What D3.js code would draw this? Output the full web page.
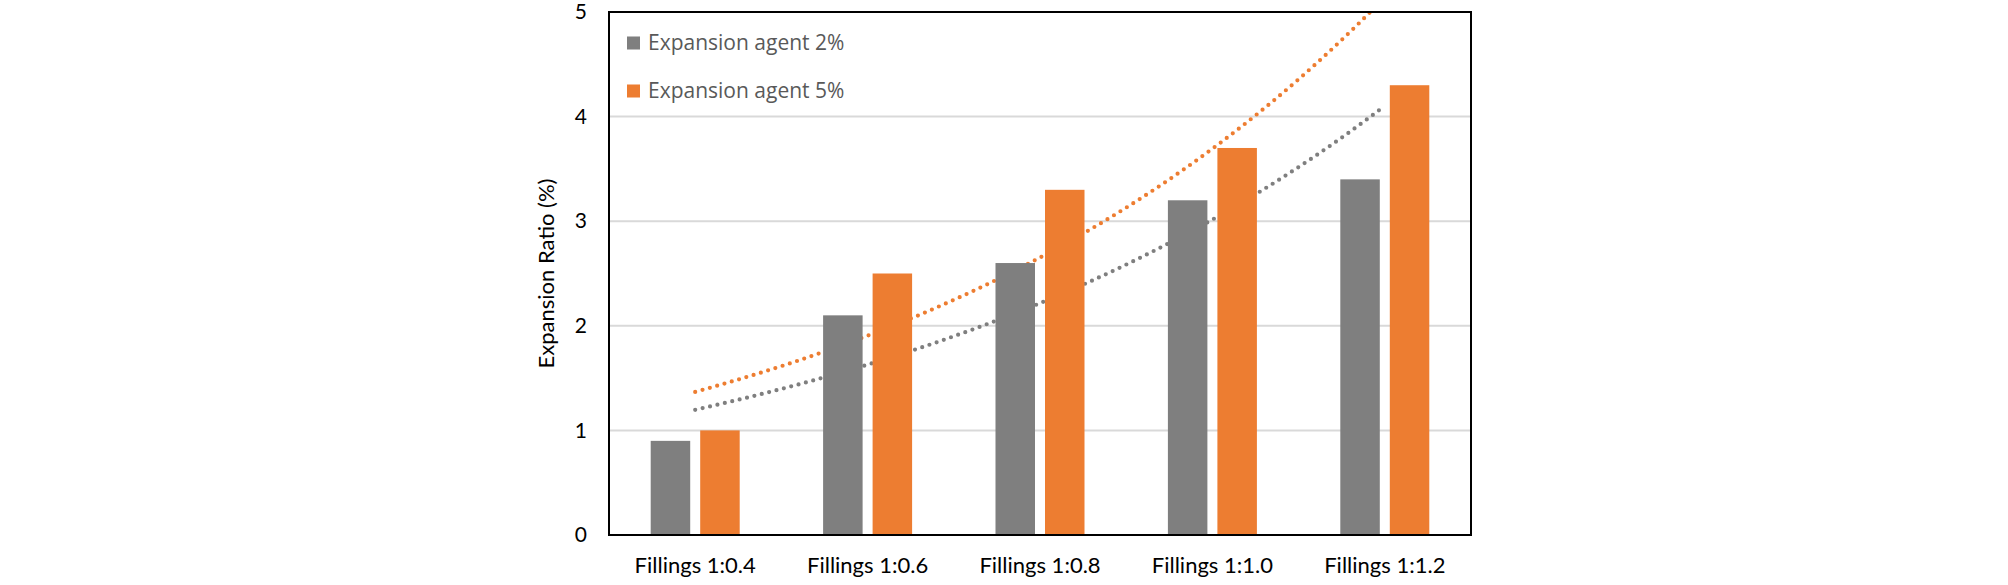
<!DOCTYPE html>
<html>
<head>
<meta charset="utf-8">
<script src="https://cdn.jsdelivr.net/npm/d3@7"></script>
<style>
  body { margin: 0; background: #fff; }
</style>
</head>
<body>
<script>
var categories = ["Fillings 1:0.4", "Fillings 1:0.6", "Fillings 1:0.8", "Fillings 1:1.0", "Fillings 1:1.2"];
var agent2 = [0.9, 2.1, 2.6, 3.2, 3.4];
var agent5 = [1.0, 2.5, 3.3, 3.7, 4.3];
var seriesNames = ["Expansion agent 2%", "Expansion agent 5%"];
var colors = ["#7f7f7f", "#ed7d31"];
var yTicks = [0, 1, 2, 3, 4, 5];

var w = 2008, h = 585;
var pLeft = 609, pRight = 1471, pTop = 12, pBottom = 535;
var axisFont = "Lato, 'Open Sans', sans-serif";

var svg = d3.select("body").append("svg")
    .attr("width", w)
    .attr("height", h);

var x = d3.scaleBand().domain(categories).range([pLeft, pRight]);
var y = d3.scaleLinear().domain([0, 5]).range([pBottom, pTop]);

// gridlines
svg.selectAll(".grid")
    .data(yTicks.slice(1, 5))
    .enter().append("line")
    .attr("x1", pLeft).attr("x2", pRight)
    .attr("y1", d => y(d)).attr("y2", d => y(d))
    .attr("stroke", "#d9d9d9")
    .attr("stroke-width", 2);

// exponential trendlines (least squares on ln y), drawn behind the bars
function expFit(vals) {
    var xs = vals.map((v, i) => i + 1);
    var ly = vals.map(v => Math.log(v));
    var mx = d3.mean(xs), my = d3.mean(ly);
    var b = d3.sum(xs, (xi, i) => (xi - mx) * (ly[i] - my)) / d3.sum(xs, xi => (xi - mx) * (xi - mx));
    var a = Math.exp(my - b * mx);
    return t => a * Math.exp(b * t);
}

svg.append("clipPath").attr("id", "plotclip")
    .append("rect").attr("x", pLeft).attr("y", pTop).attr("width", pRight - pLeft).attr("height", pBottom - pTop);

var xPos = d3.scaleLinear().domain([1, categories.length])
    .range([x(categories[0]) + x.bandwidth() / 2, x(categories[categories.length - 1]) + x.bandwidth() / 2]);

[agent2, agent5].forEach(function(vals, si) {
    var f = expFit(vals);
    var pts = d3.range(1, 5.001, 0.05).map(t => [xPos(t), y(f(t))]);
    svg.append("path")
        .attr("clip-path", "url(#plotclip)")
        .attr("d", d3.line()(pts))
        .attr("fill", "none")
        .attr("stroke", colors[si])
        .attr("stroke-width", 4.2)
        .attr("stroke-linecap", "round")
        .attr("stroke-dasharray", "0,7.6");
});

// bars
var barW = 39.5, gap = 10;
[agent2, agent5].forEach(function(vals, si) {
    svg.selectAll(".bar" + si)
        .data(vals)
        .enter().append("rect")
        .attr("x", (d, i) => x(categories[i]) + x.bandwidth() / 2 + (si === 0 ? -gap / 2 - barW : gap / 2))
        .attr("y", d => y(d))
        .attr("width", barW)
        .attr("height", d => y(0) - y(d))
        .attr("fill", colors[si]);
});

// frame
svg.append("rect")
    .attr("x", pLeft).attr("y", pTop)
    .attr("width", pRight - pLeft).attr("height", pBottom - pTop)
    .attr("fill", "none")
    .attr("stroke", "#000")
    .attr("stroke-width", 2);

// y axis
var yAxis = d3.axisLeft(y).tickValues(yTicks).tickSize(0).tickPadding(22).tickFormat(d3.format("d"));
var ya = svg.append("g").attr("transform", "translate(" + pLeft + ",0)").call(yAxis);
ya.select(".domain").remove();
ya.selectAll("text").attr("font-family", axisFont).attr("font-size", 21).attr("fill", "#000");

// x axis
var xAxis = d3.axisBottom(x).tickSize(0).tickPadding(22);
var xa = svg.append("g").attr("transform", "translate(0," + pBottom + ")").call(xAxis);
xa.select(".domain").remove();
xa.selectAll("text").attr("font-family", axisFont).attr("font-size", 22).attr("fill", "#000");

// y title
svg.append("text")
    .attr("transform", "translate(554," + ((pTop + pBottom) / 2) + ") rotate(-90)")
    .attr("text-anchor", "middle")
    .attr("font-family", axisFont)
    .attr("font-size", 22)
    .attr("fill", "#000")
    .text("Expansion Ratio (%)");

// legend
seriesNames.forEach(function(name, i) {
    var ly = 43 + i * 48;
    svg.append("rect")
        .attr("x", 627).attr("y", ly - 6.5)
        .attr("width", 13).attr("height", 13)
        .attr("fill", colors[i]);
    svg.append("text")
        .attr("x", 648).attr("y", ly)
        .attr("dy", "0.35em")
        .attr("font-family", "'Open Sans', sans-serif")
        .attr("font-size", 21)
        .attr("fill", "#595959")
        .text(name);
});
</script>
</body>
</html>
